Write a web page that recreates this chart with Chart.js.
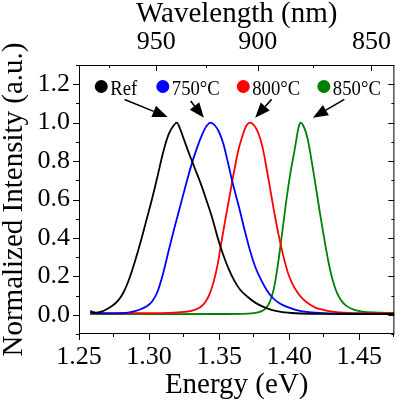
<!DOCTYPE html>
<html><head><meta charset="utf-8">
<script src="https://cdn.jsdelivr.net/npm/chart.js@4/dist/chart.umd.min.js"></script>
<style>html,body{margin:0;padding:0;background:#fff;overflow:hidden}</style>
</head><body>
<canvas id="c" width="398" height="402" style="display:block;width:398px;height:402px"></canvas>
<script>
// ---- data ----
const seriesNames = ['Ref', '750\u00B0C', '800\u00B0C', '850\u00B0C'];
const seriesColors = ['#000000', '#0000ff', '#ff0000', '#008000'];

const refEnergy = [1.258,1.262,1.266,1.270,1.274,1.278,1.282,1.286,1.290,1.294,1.298,1.302,1.306,1.310,1.314,1.3175,1.3198,1.322,1.325,1.329,1.333,1.337,1.341,1.345,1.349,1.353,1.357,1.361,1.365,1.370,1.376,1.382,1.388,1.395,1.405,1.420,1.450,1.475];
const refIntensity = [0.012,0.010,0.016,0.030,0.048,0.075,0.120,0.190,0.280,0.380,0.490,0.600,0.720,0.845,0.940,0.985,1.0,0.970,0.910,0.830,0.755,0.680,0.595,0.505,0.400,0.310,0.235,0.175,0.130,0.095,0.062,0.040,0.024,0.014,0.008,0.005,0.004,0.004];

const e750Energy = [1.258,1.262,1.270,1.280,1.286,1.290,1.294,1.298,1.302,1.306,1.310,1.314,1.318,1.322,1.326,1.330,1.334,1.338,1.341,1.3438,1.347,1.350,1.353,1.356,1.360,1.364,1.368,1.372,1.376,1.380,1.384,1.388,1.393,1.399,1.406,1.414,1.425,1.450,1.475];
const e750Intensity = [0.020,0.010,0.007,0.009,0.013,0.019,0.029,0.043,0.068,0.120,0.215,0.335,0.450,0.560,0.670,0.775,0.865,0.940,0.982,1.0,0.985,0.950,0.890,0.800,0.675,0.565,0.445,0.335,0.245,0.180,0.128,0.090,0.060,0.040,0.023,0.014,0.009,0.006,0.005];

const e800Energy = [1.258,1.280,1.300,1.315,1.325,1.330,1.334,1.337,1.340,1.343,1.346,1.349,1.352,1.355,1.358,1.361,1.364,1.367,1.3695,1.3721,1.375,1.378,1.381,1.384,1.387,1.390,1.393,1.396,1.399,1.402,1.406,1.410,1.415,1.420,1.4225,1.425,1.432,1.442,1.460,1.475];
const e800Intensity = [0.012,0.008,0.008,0.010,0.015,0.020,0.030,0.042,0.065,0.105,0.170,0.265,0.395,0.520,0.640,0.760,0.865,0.940,0.985,1.0,0.985,0.945,0.870,0.755,0.630,0.505,0.395,0.300,0.220,0.165,0.115,0.080,0.052,0.033,0.030,0.024,0.015,0.010,0.008,0.008];

const e850Energy = [1.258,1.300,1.350,1.370,1.376,1.380,1.383,1.386,1.389,1.392,1.395,1.398,1.401,1.404,1.4065,1.4079,1.410,1.413,1.416,1.419,1.422,1.425,1.428,1.431,1.434,1.437,1.441,1.446,1.452,1.460,1.475];
const e850Intensity = [0.004,0.003,0.004,0.006,0.010,0.018,0.032,0.065,0.135,0.265,0.430,0.600,0.745,0.865,0.970,1.0,0.985,0.920,0.800,0.665,0.525,0.395,0.275,0.180,0.115,0.075,0.045,0.027,0.017,0.012,0.010];

const energyTicks = [1.25, 1.30, 1.35, 1.40, 1.45];
const energyMinorTicks = [1.275, 1.325, 1.375, 1.425, 1.475];
const intensityTicks = [0.0, 0.2, 0.4, 0.6, 0.8, 1.0, 1.2];
const intensityMinorTicks = [-0.1, 0.1, 0.3, 0.5, 0.7, 0.9, 1.1, 1.3];
const wavelengthTicks = [950, 900, 850];
const wavelengthMinorTicks = [975, 925, 875];

// arrows: start and tip in data coordinates
const arrowStartE = [1.2825, 1.3297, 1.3874, 1.4393];
const arrowStartI = [1.121, 1.112, 1.121, 1.121];
const arrowTipE = [1.3132, 1.3391, 1.3757, 1.4169];
const arrowTipI = [1.029, 1.026, 1.026, 1.026];
// legend marker positions (data coords)
const legendE = [1.2659, 1.3098, 1.3672, 1.4247];
const legendI = 1.188;

const HC = 1239.84; // eV*nm
const X_MIN = 1.25, X_MAX = 1.475, Y_MIN = -0.1, Y_MAX = 1.3;

const energies = [refEnergy, e750Energy, e800Energy, e850Energy];
const intensities = [refIntensity, e750Intensity, e800Intensity, e850Intensity];

const SERIF = 'Liberation Serif';
Chart.defaults.font.family = SERIF;
Chart.defaults.color = '#000';

const datasets = seriesNames.map((n, i) => ({
  label: n,
  data: energies[i].map((e, k) => ({x: e, y: intensities[i][k]})),
  borderColor: seriesColors[i],
  backgroundColor: seriesColors[i],
  borderWidth: 1.8,
  pointRadius: 0,
  showLine: true,
  fill: false,
  cubicInterpolationMode: 'monotone'
}));

const decorPlugin = {
  id: 'decor',
  afterDatasetsDraw(chart) {
    const ctx = chart.ctx;
    const xs = chart.scales.x, ys = chart.scales.y;
    const a = chart.chartArea;
    ctx.save();
    ctx.strokeStyle = '#000';
    ctx.lineWidth = 1;
    ctx.strokeRect(a.left + 0.5, a.top + 0.5, a.right - a.left - 1, a.bottom - a.top - 1);
    const L = 6, l = 3;
    ctx.beginPath();
    energyTicks.forEach(v => { const p = Math.round(xs.getPixelForValue(v)) + 0.5; ctx.moveTo(p, a.bottom); ctx.lineTo(p, a.bottom + L); });
    energyMinorTicks.forEach(v => { const p = Math.round(xs.getPixelForValue(v)) - 0.5; ctx.moveTo(p, a.bottom); ctx.lineTo(p, a.bottom + l); });
    wavelengthTicks.forEach(w => { const p = Math.round(xs.getPixelForValue(HC / w)) + 0.5; ctx.moveTo(p, a.top); ctx.lineTo(p, a.top + L); });
    wavelengthMinorTicks.forEach(w => { const p = Math.round(xs.getPixelForValue(HC / w)) + 0.5; ctx.moveTo(p, a.top); ctx.lineTo(p, a.top + l); });
    intensityTicks.forEach(v => { const p = Math.round(ys.getPixelForValue(v)) + 0.5; ctx.moveTo(a.left, p); ctx.lineTo(a.left - L, p); ctx.moveTo(a.right, p); ctx.lineTo(a.right - L, p); });
    intensityMinorTicks.forEach(v => { const p = Math.round(ys.getPixelForValue(v)) + 0.5; ctx.moveTo(a.left, p); ctx.lineTo(a.left - l, p); ctx.moveTo(a.right, p); ctx.lineTo(a.right - l, p); });
    ctx.stroke();

    arrowStartE.forEach((e, i) => {
      const x1 = xs.getPixelForValue(e), y1 = ys.getPixelForValue(arrowStartI[i]);
      const x2 = xs.getPixelForValue(arrowTipE[i]), y2 = ys.getPixelForValue(arrowTipI[i]);
      const ang = Math.atan2(y2 - y1, x2 - x1);
      const hl = 15, hw = 6;
      const bx = x2 - hl * Math.cos(ang), by = y2 - hl * Math.sin(ang);
      ctx.strokeStyle = '#000'; ctx.fillStyle = '#000'; ctx.lineWidth = 1.6;
      ctx.beginPath(); ctx.moveTo(x1, y1); ctx.lineTo(bx, by); ctx.stroke();
      ctx.beginPath();
      ctx.moveTo(x2, y2);
      ctx.lineTo(bx + hw * Math.sin(ang), by - hw * Math.cos(ang));
      ctx.lineTo(bx - hw * Math.sin(ang), by + hw * Math.cos(ang));
      ctx.closePath(); ctx.fill();
    });

    chart.data.datasets.forEach((ds, i) => {
      const cx = xs.getPixelForValue(legendE[i]), cy = ys.getPixelForValue(legendI);
      ctx.fillStyle = ds.borderColor;
      ctx.beginPath(); ctx.arc(cx, cy, 6.5, 0, Math.PI * 2); ctx.fill();
      ctx.save();
      ctx.translate(cx + 9, cy + 8);
      ctx.scale(0.85, 1);
      ctx.fillStyle = '#000';
      ctx.font = "22px 'Liberation Serif'";
      ctx.textBaseline = 'alphabetic';
      ctx.textAlign = 'left';
      ctx.fillText(ds.label, 0, 0);
      ctx.restore();
    });
    ctx.restore();
  }
};

new Chart(document.getElementById('c'), {
  type: 'scatter',
  data: { datasets },
  options: {
    responsive: false,
    animation: false,
    devicePixelRatio: 1,
    layout: { padding: { left: 0, right: 1, top: 0, bottom: 0 } },
    plugins: { legend: { display: false }, tooltip: { enabled: false } },
    scales: {
      x: {
        type: 'linear', position: 'bottom', min: X_MIN, max: X_MAX,
        afterBuildTicks: s => { s.ticks = energyTicks.map(v => ({value: v})); },
        afterFit: s => { s.height = 68; },
        grid: { display: false, drawTicks: false },
        border: { display: false },
        ticks: { color: '#000', font: { family: SERIF, size: 26 }, padding: 8, maxRotation: 0, autoSkip: false,
                 callback: v => v.toFixed(2) },
        title: { display: true, text: 'Energy (eV)', color: '#000', font: { family: SERIF, size: 29, lineHeight: 1 }, padding: { top: 0, bottom: 2 } }
      },
      x2: {
        type: 'linear', position: 'top', min: X_MIN, max: X_MAX,
        afterBuildTicks: s => { s.ticks = wavelengthTicks.map(w => ({value: HC / w})); },
        afterFit: s => { s.height = 65; },
        grid: { display: false, drawTicks: false },
        border: { display: false },
        ticks: { color: '#000', font: { family: SERIF, size: 26 }, padding: 7, maxRotation: 0, autoSkip: false,
                 callback: v => String(Math.round(HC / v)) },
        title: { display: true, text: 'Wavelength (nm)', color: '#000', font: { family: SERIF, size: 29, lineHeight: 1 }, padding: { top: 0, bottom: 0 } }
      },
      y: {
        type: 'linear', position: 'left', min: Y_MIN, max: Y_MAX,
        afterBuildTicks: s => { s.ticks = intensityTicks.map(v => ({value: v})); },
        afterFit: s => { s.width = 79; },
        grid: { display: false, drawTicks: false },
        border: { display: false },
        ticks: { color: '#000', font: { family: SERIF, size: 26 }, padding: 9, autoSkip: false,
                 callback: v => v.toFixed(1) },
        title: { display: true, text: 'Normalized Intensity (a.u.)', color: '#000', font: { family: SERIF, size: 29, lineHeight: 1 }, padding: { top: 0, bottom: 0 } }
      }
    }
  },
  plugins: [decorPlugin]
});
</script>
</body></html>
